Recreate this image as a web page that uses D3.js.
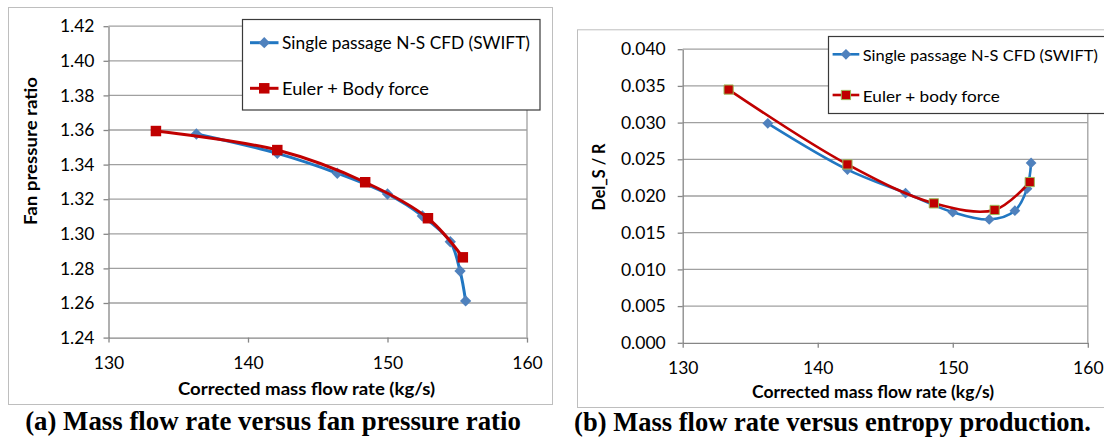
<!DOCTYPE html>
<html><head><meta charset="utf-8">
<script src="https://cdn.jsdelivr.net/npm/d3@7"></script>
<style>body{margin:0;background:#fff} svg{display:block}</style>
</head><body>
<svg id="c" width="1104" height="440"></svg>
<script>
// ---------- data ----------
const xTicks = [130, 140, 150, 160];
const fprTicks = [1.24, 1.26, 1.28, 1.30, 1.32, 1.34, 1.36, 1.38, 1.40, 1.42];
const entTicks = [0.000, 0.005, 0.010, 0.015, 0.020, 0.025, 0.030, 0.035, 0.040];

const seriesNames = ["Single passage N-S CFD (SWIFT)", "Euler + Body force"];
const seriesNamesB = ["Single passage N-S CFD (SWIFT)", "Euler + body force"];

const fprSwiftX = [136.3, 142.1, 146.4, 150.0, 152.5, 154.5, 155.2, 155.6];
const fprSwiftY = [1.3577, 1.3465, 1.3350, 1.3230, 1.3103, 1.2954, 1.2785, 1.2612];
const fprEulerX = [133.4, 142.1, 148.4, 152.9, 155.4];
const fprEulerY = [1.3594, 1.3484, 1.3298, 1.3090, 1.2864];

const entSwiftX = [136.3, 142.2, 146.5, 150.0, 152.7, 154.6, 155.5, 155.8];
const entSwiftY = [0.0299, 0.0236, 0.0204, 0.0178, 0.0168, 0.0180, 0.0210, 0.0245];
const entEulerX = [133.4, 142.2, 148.6, 153.1, 155.7];
const entEulerY = [0.0345, 0.0243, 0.0190, 0.0181, 0.0219];

const captions = ["(a) Mass flow rate versus fan pressure ratio", "(b) Mass flow rate versus entropy production."];
const xTitle = "Corrected mass flow rate (kg/s)";

// ---------- drawing ----------
const svg = d3.select("#c");
const SANS = "Lato, 'Open Sans', sans-serif";
const SERIF = "'Liberation Serif', 'Times New Roman', serif";
const BLUE_LINE = "#2177C2", BLUE_MK = "#4F81BD", RED = "#C00000";

function fit(t, w) { t.attr("textLength", w).attr("lengthAdjust", "spacingAndGlyphs"); }

function zip(xs, ys) { return xs.map((v, i) => [v, ys[i]]); }

function chart(o) {
  const g = svg.append("g");
  const [fx0, fy0, fx1, fy1] = o.frame;
  g.append("rect").attr("x", fx0 + 0.5).attr("y", fy0 + 0.5)
    .attr("width", fx1 - fx0).attr("height", fy1 - fy0)
    .attr("fill", "#fff").attr("stroke", "#BEBEBE");

  const [px0, py0, px1, py1] = o.plot;
  const x = d3.scaleLinear().domain([130, 160]).range([px0, px1]);
  const y = d3.scaleLinear().domain([o.yTicks[0], o.yTicks[o.yTicks.length - 1]]).range([py1, py0]);

  // gridlines
  g.append("g").selectAll("line").data(o.yTicks.slice(1)).join("line")
    .attr("x1", px0).attr("x2", px1)
    .attr("y1", d => y(d)).attr("y2", d => y(d))
    .attr("stroke", "#A0A0A0").attr("stroke-width", 1.3);
  // right border
  g.append("line").attr("x1", px1).attr("x2", px1).attr("y1", py0).attr("y2", py1)
    .attr("stroke", "#A0A0A0").attr("stroke-width", 1.3);

  // axes
  const ya = g.append("g").attr("transform", `translate(${px0},0)`)
    .call(d3.axisLeft(y).tickValues(o.yTicks).tickFormat(d3.format(o.fmt)).tickSize(5).tickSizeOuter(0).tickPadding(o.yPad));
  const xa = g.append("g").attr("transform", `translate(0,${py1})`)
    .call(d3.axisBottom(x).tickValues(xTicks).tickFormat(d3.format("d")).tickSize(5).tickSizeOuter(0).tickPadding(o.xPad));
  [ya, xa].forEach(a => {
    a.select(".domain").attr("stroke", "#868686").attr("stroke-width", 1.3);
    a.selectAll(".tick line").attr("stroke", "#868686").attr("stroke-width", 1.3);
    a.selectAll(".tick text").attr("font-family", SANS).attr("font-size", 17.5).attr("fill", "#000");
  });

  // axis titles
  const xt = g.append("text").attr("x", o.xTitle[0]).attr("y", o.xTitle[1])
    .attr("text-anchor", "middle").attr("dominant-baseline", "central")
    .attr("font-family", SANS).attr("font-weight", "bold").attr("font-size", 16.5).text(xTitle);
  fit(xt, o.xTitle[2]);
  const yt = g.append("text").attr("transform", `translate(${o.yTitle[0]},${o.yTitle[1]}) rotate(-90)`)
    .attr("text-anchor", "middle").attr("dominant-baseline", "central")
    .attr("font-family", SANS).attr("font-weight", "bold").attr("font-size", 16.5).text(o.yTitleText);
  fit(yt, o.yTitle[2]);

  // series
  const line = d3.line().x(d => x(d[0])).y(d => y(d[1])).curve(d3.curveCatmullRom.alpha(0.5));
  const blue = zip(o.sx, o.sy), red = zip(o.ex, o.ey);
  const diamond = d3.symbol().type(d3.symbolSquare).size(o.dSize)();
  const square = d3.symbol().type(d3.symbolSquare).size(o.sSize)();

  g.append("path").datum(blue).attr("d", line).attr("fill", "none")
    .attr("stroke", BLUE_LINE).attr("stroke-width", o.lw);
  g.append("g").selectAll("path").data(blue).join("path")
    .attr("d", diamond).attr("transform", d => `translate(${x(d[0])},${y(d[1])}) rotate(45)`)
    .attr("fill", BLUE_MK);
  g.append("path").datum(red).attr("d", line).attr("fill", "none")
    .attr("stroke", RED).attr("stroke-width", o.lw);
  g.append("g").selectAll("path").data(red).join("path")
    .attr("d", square).attr("transform", d => `translate(${x(d[0])},${y(d[1])})`)
    .attr("fill", RED).attr("stroke", o.sqStroke).attr("stroke-width", o.sqStroke === "none" ? 0 : 1);

  // legend
  const [lx0, ly0, lx1, ly1] = o.legend;
  g.append("rect").attr("x", lx0 + 0.5).attr("y", ly0 + 0.5).attr("width", lx1 - lx0).attr("height", ly1 - ly0)
    .attr("fill", "#fff").attr("stroke", "#3A3A3A").attr("stroke-width", 1.2);
  o.names.forEach((name, i) => {
    const ry = o.legRows[i];
    const [sx0, sx1] = o.legSym;
    const cx = (sx0 + sx1) / 2;
    g.append("line").attr("x1", sx0).attr("x2", sx1).attr("y1", ry).attr("y2", ry)
      .attr("stroke", i === 0 ? BLUE_LINE : RED).attr("stroke-width", o.lw);
    if (i === 0) {
      g.append("path").attr("d", diamond).attr("transform", `translate(${cx},${ry}) rotate(45)`).attr("fill", BLUE_MK);
    } else {
      g.append("path").attr("d", square).attr("transform", `translate(${cx},${ry})`)
        .attr("fill", RED).attr("stroke", o.sqStroke).attr("stroke-width", o.sqStroke === "none" ? 0 : 1);
    }
    const t = g.append("text").attr("x", o.legText).attr("y", ry)
      .attr("dominant-baseline", "central").attr("font-family", SANS).attr("font-size", o.legFs)
      .attr("fill", "#000").text(name);
    fit(t, o.legW[i]);
  });

  // caption
  const c = g.append("text").attr("x", o.caption[0]).attr("y", o.caption[1])
    .attr("text-anchor", "middle").attr("font-family", SERIF).attr("font-weight", "bold")
    .attr("font-size", 26).attr("fill", "#000").text(o.captionText);
  const w = c.node().getComputedTextLength();
  c.attr("font-size", 26 * o.caption[2] / w);
}

chart({
  frame: [8, 7, 552, 404],
  plot: [108.5, 26.2, 527, 337.6],
  yTicks: fprTicks, fmt: ".2f", yPad: 9, xPad: 14,
  xTitle: [306.5, 389, 257], yTitle: [30.5, 151, 148], yTitleText: "Fan pressure ratio",
  sx: fprSwiftX, sy: fprSwiftY, ex: fprEulerX, ey: fprEulerY,
  lw: 3, dSize: 64, sSize: 110, sqStroke: "none",
  legend: [242, 19, 539.5, 109.5], legRows: [42.7, 88.3], legSym: [250, 278.5], legText: 282,
  legW: [248, 147], legFs: 17, names: seriesNames,
  caption: [273, 430, 496], captionText: captions[0]
});

chart({
  frame: [577, 29.3, 1112, 407],
  plot: [682.7, 49.2, 1087.8, 342.8],
  yTicks: entTicks, fmt: ".3f", yPad: 12, xPad: 14,
  xTitle: [873, 392, 242], yTitle: [599, 177, 67], yTitleText: "Del_S / R",
  sx: entSwiftX, sy: entSwiftY, ex: entEulerX, ey: entEulerY,
  lw: 2.6, dSize: 58, sSize: 85, sqStroke: "#9BBB59",
  legend: [828, 36, 1112, 113], legRows: [54.3, 95], legSym: [832.6, 859.3], legText: 862.8,
  legW: [235, 137], legFs: 16, names: seriesNamesB,
  caption: [832.5, 431, 517], captionText: captions[1]
});
</script>
</body></html>
